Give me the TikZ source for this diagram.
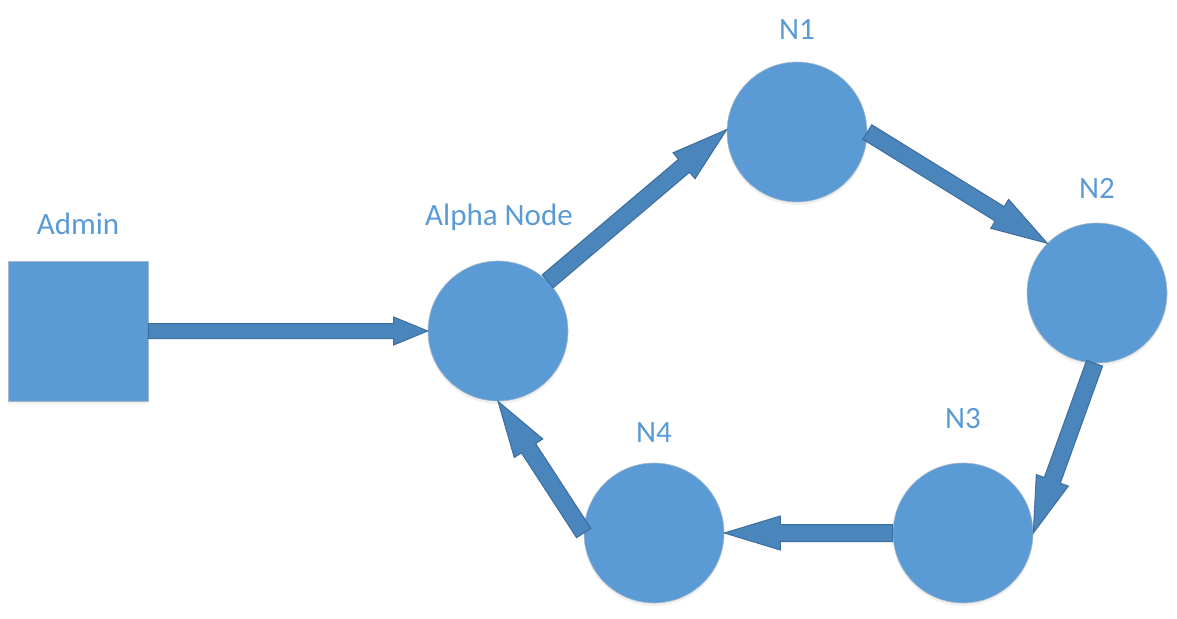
\documentclass[tikz,border=0pt]{standalone}
\usepackage{fontspec}
\setmainfont{Carlito}
\usetikzlibrary{calc,shadows}
\definecolor{nodeblue}{HTML}{5B9BD5}
\definecolor{arrfill}{HTML}{4A85BC}
\definecolor{arrdraw}{HTML}{3D6E9D}
\definecolor{edgegray}{HTML}{A9B8C8}
\tikzset{
  circnode/.style={circle, minimum size=140pt, inner sep=0pt, fill=nodeblue, draw=edgegray, line width=0.6pt,
    drop shadow={opacity=0.12, shadow xshift=0pt, shadow yshift=-3pt}},
  sqnode/.style={rectangle, minimum size=140pt, inner sep=0pt, fill=nodeblue, draw=edgegray, line width=0.6pt,
    drop shadow={opacity=0.12, shadow xshift=0pt, shadow yshift=-3pt}},
  lbl/.style={anchor=base, text=nodeblue, font=\fontsize{31}{36}\selectfont, inner sep=0pt},
  arr/.style={fill=arrfill, draw=arrdraw, line width=1pt, line join=miter}
}
\newcommand\blockarrow[5]{%
  \coordinate (ba-s) at (#1);
  \coordinate (ba-t) at (#2);
  \coordinate (ba-h) at ($(ba-t)!#5!(ba-s)$);
  \draw[arr] ($(ba-s)!#3!90:(ba-t)$) -- ($(ba-h)!#3!-90:(ba-s)$) -- ($(ba-h)!#4!-90:(ba-s)$)
    -- (ba-t) -- ($(ba-h)!#4!90:(ba-s)$) -- ($(ba-h)!#3!90:(ba-s)$) -- ($(ba-s)!#3!-90:(ba-t)$) -- cycle;}
\begin{document}
\begin{tikzpicture}[x=1pt,y=-1pt]
\useasboundingbox (0,0) rectangle (1177,618);
\node[sqnode] (admin) at (78,331) {};
\node[circnode] (alpha) at (498,331) {};
\node[circnode] (n1) at (797,132) {};
\node[circnode] (n2) at (1097,293) {};
\node[circnode] (n3) at (963,533) {};
\node[circnode] (n4) at (654,533) {};
\node[lbl] (ladmin) at (78,234) {Admin};
\node[lbl] (lalpha) at (499,225) {Alpha Node};
\node[lbl] (ln1) at (797,40) {N1};
\node[lbl] (ln2) at (1097,198) {N2};
\node[lbl] (ln3) at (963,428) {N3};
\node[lbl] (ln4) at (654,442) {N4};
\blockarrow{admin.east}{alpha.west}{7.5pt}{14pt}{34pt}
\blockarrow{alpha.45}{n1.178}{8.5pt}{17pt}{56pt}
\blockarrow{n1.0}{n2.135}{8.5pt}{17pt}{56pt}
\blockarrow{n2.268}{n3.0}{8.5pt}{17pt}{56pt}
\blockarrow{n3.180}{n4.0}{8.5pt}{17pt}{56pt}
\blockarrow{n4.180}{alpha.270}{8.5pt}{17pt}{56pt}
\end{tikzpicture}
\end{document}
